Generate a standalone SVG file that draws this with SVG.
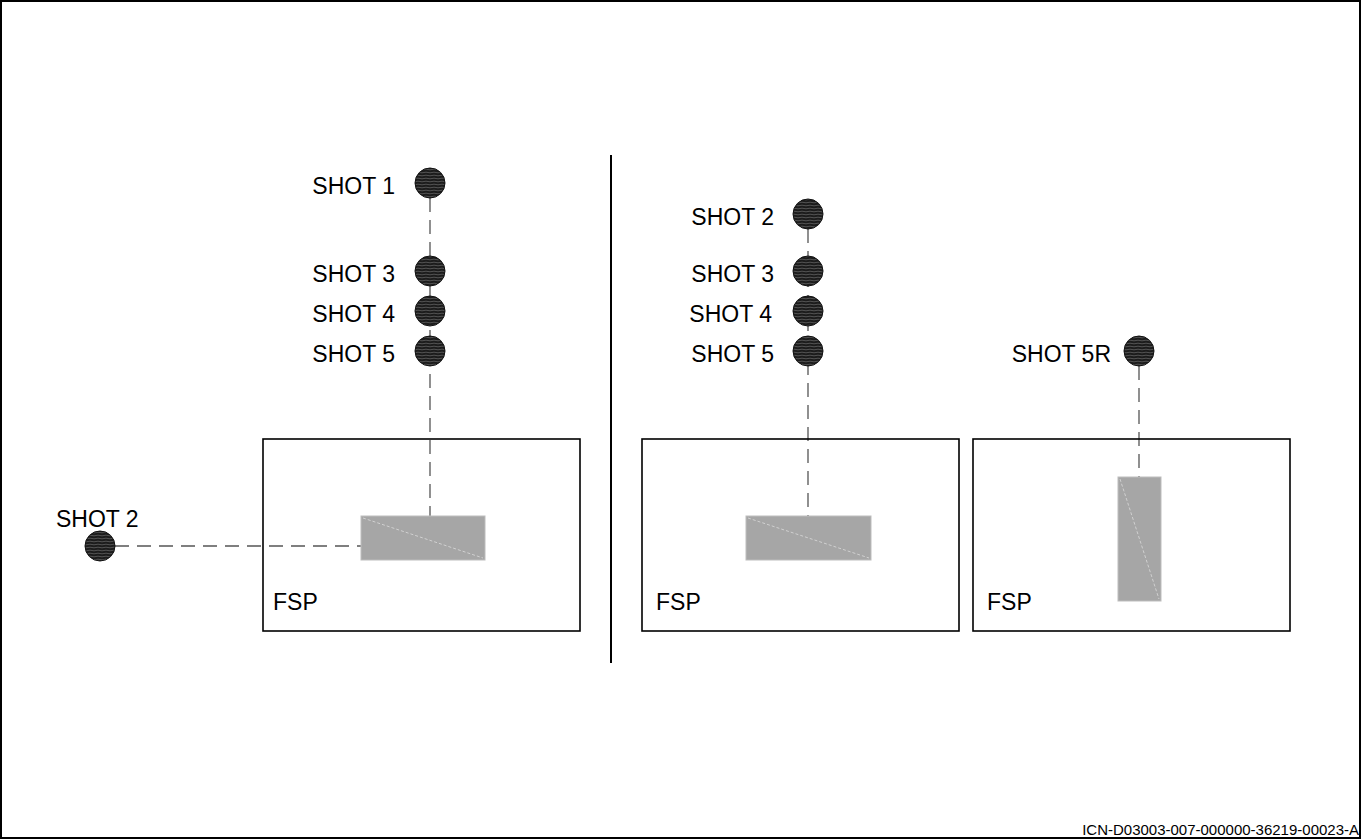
<svg xmlns="http://www.w3.org/2000/svg" width="1362" height="840" viewBox="0 0 1362 840">
<style>
.lbl{font-family:"Liberation Sans",Arial,sans-serif;font-size:23px;fill:#000}
.box{fill:none;stroke:#000;stroke-width:1.6}
.gr{fill:#a6a6a6;stroke:#bdbdbd;stroke-width:1}
.diag{stroke:#d0d0d0;stroke-width:1;stroke-dasharray:3 2}
.dash{fill:none;stroke:#555;stroke-width:1.3;stroke-dasharray:14 8}
.shot{fill:url(#hatch);stroke:#111;stroke-width:1}
</style>
<defs>
<pattern id="hatch" patternUnits="userSpaceOnUse" width="8" height="3">
<rect width="8" height="3" fill="#1c1c1c"/>
<path d="M0 1.5 Q2 0.9 4 1.5 T8 1.5" stroke="#6a6a6a" stroke-width="0.7" fill="none"/>
</pattern>
</defs>
<rect x="1" y="1" width="1359" height="837" fill="#fff" stroke="#000" stroke-width="2"/>
<line x1="611" y1="155" x2="611" y2="663" stroke="#000" stroke-width="2"/>
<g id="connectors">
<path class="dash" d="M430 198 V517"/>
<path class="dash" d="M115 546 H361"/>
<path class="dash" d="M808 229 V517"/>
<path class="dash" d="M1139 366 V477"/>
</g>
<g id="panel-left">
<rect class="box" x="263" y="439" width="317" height="192"/>
<text class="lbl" x="273" y="610">FSP</text>
<rect class="gr" x="361" y="516" width="124" height="44"/>
<line class="diag" x1="363" y1="518" x2="483" y2="558"/>
</g>
<g id="panel-mid">
<rect class="box" x="642" y="439" width="317" height="192"/>
<text class="lbl" x="656" y="610">FSP</text>
<rect class="gr" x="746" y="516" width="125" height="44"/>
<line class="diag" x1="748" y1="518" x2="869" y2="558"/>
</g>
<g id="panel-right">
<rect class="box" x="973" y="439" width="317" height="192"/>
<text class="lbl" x="987" y="610">FSP</text>
<rect class="gr" x="1118" y="477" width="43" height="124"/>
<line class="diag" x1="1120" y1="479" x2="1159" y2="599"/>
</g>
<g id="shot1-l"><circle class="shot" cx="430" cy="183" r="15"/><text class="lbl" x="395" y="194" text-anchor="end">SHOT 1</text></g>
<g id="shot3-l"><circle class="shot" cx="430" cy="271" r="15"/><text class="lbl" x="395" y="282" text-anchor="end">SHOT 3</text></g>
<g id="shot4-l"><circle class="shot" cx="430" cy="311" r="15"/><text class="lbl" x="395" y="322" text-anchor="end">SHOT 4</text></g>
<g id="shot5-l"><circle class="shot" cx="430" cy="351" r="15"/><text class="lbl" x="395" y="362" text-anchor="end">SHOT 5</text></g>
<g id="shot2-l"><circle class="shot" cx="100" cy="546" r="15"/><text class="lbl" x="56" y="527">SHOT 2</text></g>
<g id="shot2-m"><circle class="shot" cx="808" cy="214" r="15"/><text class="lbl" x="774" y="225" text-anchor="end">SHOT 2</text></g>
<g id="shot3-m"><circle class="shot" cx="808" cy="271" r="15"/><text class="lbl" x="774" y="282" text-anchor="end">SHOT 3</text></g>
<g id="shot4-m"><circle class="shot" cx="808" cy="311" r="15"/><text class="lbl" x="772" y="322" text-anchor="end">SHOT 4</text></g>
<g id="shot5-m"><circle class="shot" cx="808" cy="351" r="15"/><text class="lbl" x="774" y="362" text-anchor="end">SHOT 5</text></g>
<g id="shot5r"><circle class="shot" cx="1139" cy="351" r="15"/><text class="lbl" x="1111" y="362" text-anchor="end">SHOT 5R</text></g>
<text x="1359" y="835" text-anchor="end" style="font-family:'Liberation Sans',Arial,sans-serif;font-size:15px">ICN-D03003-007-000000-36219-00023-A</text>
</svg>
